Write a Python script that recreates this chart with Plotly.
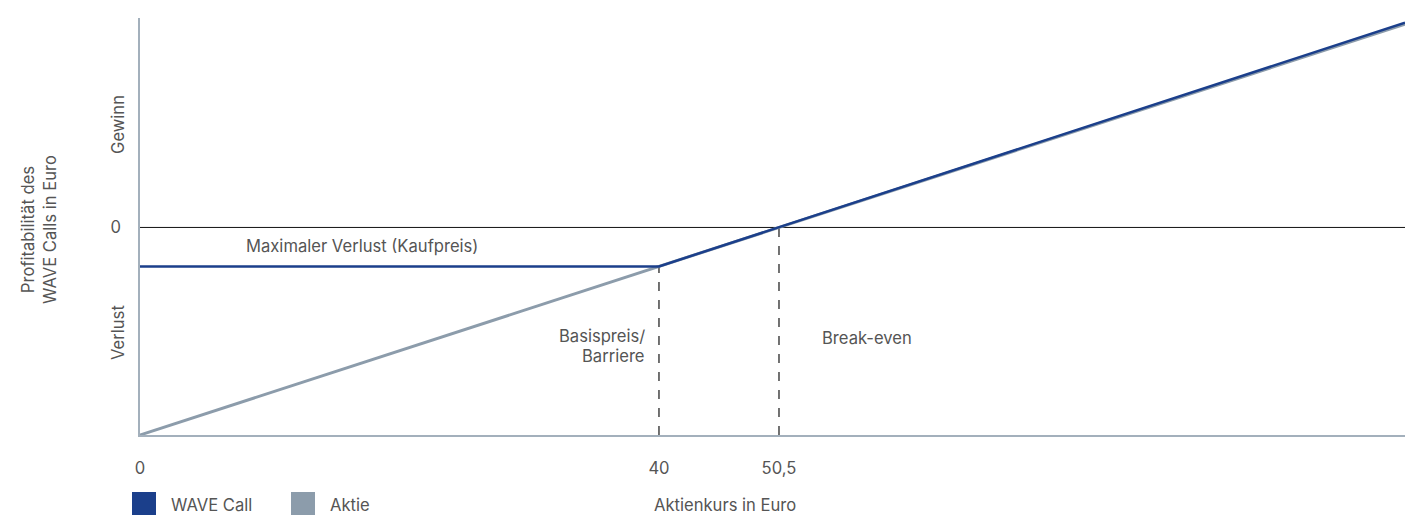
import plotly.graph_objects as go

# Schematic data (x positions as drawn; break-even tick labelled 50,5)
stock_x = [0, 97.5]
stock_y = [-49.25, 48.25]
call_x = [0, 40, 97.5]
call_y = [-9.25, -9.25, 48.6]
strike = 40
strike_y = -9.25
breakeven = 49.25
y_bottom = -49.25
y_top = 49.7
x_ticks = [0, 40, 49.25]
x_ticktext = ["0", "40", "50,5"]

BLUE = "#1b3f8b"
GRAY = "#8c9cab"
TXT = "#555555"
FONT = "Inter"
FS = 16.6

fig = go.Figure()
fig.add_trace(go.Scatter(x=stock_x, y=stock_y, mode="lines",
                         line=dict(color=GRAY, width=3), name="Aktie",
                         showlegend=False, hoverinfo="skip"))
fig.add_trace(go.Scatter(x=call_x, y=call_y, mode="lines",
                         line=dict(color=BLUE, width=2.5), name="WAVE Call",
                         showlegend=False, hoverinfo="skip"))

# zero line
fig.add_shape(type="line", xref="x", yref="y", x0=0, x1=stock_x[-1], y0=0, y1=0,
              line=dict(color="#111111", width=1), layer="below")
# dashed verticals
fig.add_shape(type="line", xref="x", yref="y", x0=strike, x1=strike, y0=y_bottom, y1=strike_y,
              line=dict(color="#444444", width=1.5, dash="dash"), layer="below")
fig.add_shape(type="line", xref="x", yref="y", x0=breakeven, x1=breakeven, y0=y_bottom, y1=0,
              line=dict(color="#444444", width=1.5, dash="dash"), layer="below")

ann_font = dict(family=FONT, size=FS, color=TXT)
fig.add_annotation(x=17.1, y=-4.5, xref="x", yref="y", text="Maximaler Verlust (Kaufpreis)",
                   showarrow=False, font=ann_font)
fig.add_annotation(x=39.0, y=-25.8, xref="x", yref="y", text="Basispreis/",
                   showarrow=False, font=ann_font, xanchor="right", borderpad=0)
fig.add_annotation(x=39.0, y=-30.5, xref="x", yref="y", text="Barriere",
                   showarrow=False, font=ann_font, xanchor="right", borderpad=0)
fig.add_annotation(x=52.4, y=-26.2, xref="x", yref="y", text="Break-even",
                   showarrow=False, font=ann_font, xanchor="left")

W, H = 1405, 515
L, R, T, B = 140, 0, 18, 80
pw, ph = W - L - R, H - T - B


def px(x):
    return (x - L) / pw


def py(y):
    return 1 - (y - T) / ph


def pann(x, y, text, xanchor="center", angle=0):
    fig.add_annotation(x=px(x), y=py(y), xref="paper", yref="paper", text=text,
                       textangle=angle, showarrow=False, font=ann_font,
                       xanchor=xanchor, yanchor="middle")


# rotated y labels
pann(118, 125, "Gewinn", angle=-90)
pann(118, 333, "Verlust", angle=-90)
pann(39, 230, "Profitabilität des<br>WAVE Calls in Euro", angle=-90)

# legend & x title
pann(725, 505, "Aktienkurs in Euro")
pann(169, 505, "WAVE Call", xanchor="left")
pann(328, 505, "Aktie", xanchor="left")

fig.add_shape(type="rect", xref="paper", yref="paper", x0=px(132), x1=px(156), y0=py(492), y1=py(516),
              fillcolor=BLUE, line=dict(width=0))
fig.add_shape(type="rect", xref="paper", yref="paper", x0=px(291), x1=px(315), y0=py(492), y1=py(516),
              fillcolor=GRAY, line=dict(width=0))

fig.update_layout(
    width=W, height=H, margin=dict(l=L, r=R, t=T, b=B),
    paper_bgcolor="white", plot_bgcolor="white",
    font=dict(family=FONT, size=FS, color=TXT),
    xaxis=dict(range=[0, stock_x[-1]], tickvals=x_ticks, ticktext=x_ticktext,
               showgrid=False, zeroline=False, showline=True, linecolor="#a3b0bc", linewidth=1.5,
               ticks="", ticklabelstandoff=17, fixedrange=True),
    yaxis=dict(range=[y_bottom, y_top], tickvals=[0], ticktext=["0"],
               showgrid=False, zeroline=False, showline=True, linecolor="#a3b0bc", linewidth=1.5,
               ticks="", ticklabelstandoff=14, fixedrange=True),
    showlegend=False,
)

fig.write_html("out.html", config={"displayModeBar": False},
               post_script="document.body.style.margin='0';document.body.style.overflow='hidden';")
